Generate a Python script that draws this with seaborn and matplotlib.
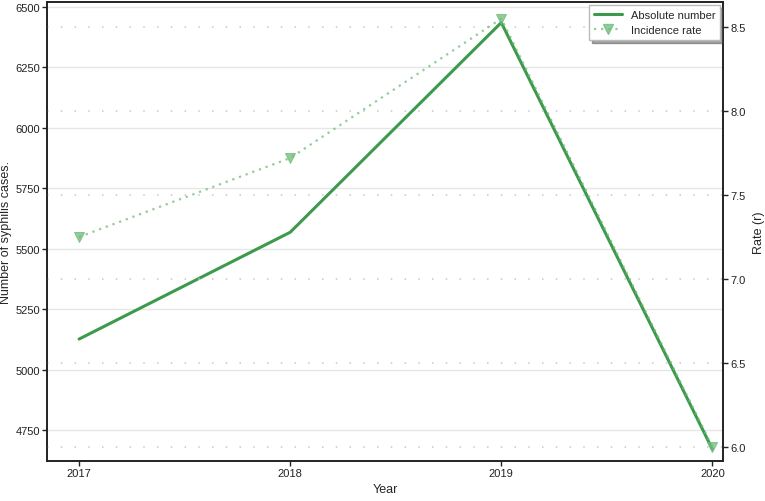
import numpy as np
import pandas as pd
import seaborn as sns
import matplotlib.pyplot as plt
from matplotlib.lines import Line2D

years = [2017, 2018, 2019, 2020]
cases = [5126, 5568, 6436, 4670]
rate = [7.25, 7.72, 8.55, 6.0]

df = pd.DataFrame({'Year': years, 'cases': cases, 'rate': rate})

sns.set_style('ticks')
plt.rcParams['font.family'] = ['Liberation Sans', 'DejaVu Sans']
plt.rcParams['font.size'] = 8

fig, ax = plt.subplots(figsize=(7.65, 5.02), dpi=100)
ax2 = ax.twinx()

green = '#3d9a4c'
light = '#6dbb78'
sns.lineplot(data=df, x='Year', y='cases', ax=ax, color=green, lw=2.2, zorder=3)
sns.lineplot(data=df, x='Year', y='rate', ax=ax2, color=light, lw=1.6,
             linestyle=(0, (1, 2.2)), marker='v', markersize=7.5, alpha=0.75,
             markeredgecolor=light, zorder=3)

ax.set_ylim(4622, 6521)
ax.set_yticks([4750, 5000, 5250, 5500, 5750, 6000, 6250, 6500])
ax2.set_ylim(5.917, 8.649)
ax2.set_yticks([6.0, 6.5, 7.0, 7.5, 8.0, 8.5])
ax.set_xlim(2016.85, 2020.05)
ax.set_xticks(years)
ax.set_xticklabels([str(y) for y in years])

ax.grid(axis='y', color='#e6e6e6', lw=1)
for v in ax2.get_yticks():
    ax2.axhline(v, color='#c8c8c8', lw=1.1, linestyle=(0, (1, 8)), zorder=0)

ax.set_xlabel('Year', fontsize=9, labelpad=3)
ax.set_ylabel('Number of syphilis cases.', fontsize=9, labelpad=2)
ax2.set_ylabel('Rate (r)', fontsize=9, labelpad=5)

for a in (ax, ax2):
    for s in a.spines.values():
        s.set_visible(True)
        s.set_color('#222222')
        s.set_linewidth(1.2)
    a.tick_params(length=3.5, width=1, pad=2, colors='#222222', labelsize=8)

handles = [Line2D([], [], color=green, lw=2.2),
           Line2D([], [], color=light, lw=1.6, linestyle=(0, (1, 2.2)),
                  marker='v', markersize=7, alpha=0.75)]
leg = ax2.legend(handles, ['Absolute number', 'Incidence rate'], loc='upper right',
                 frameon=True, shadow=True, fancybox=False, fontsize=8,
                 borderaxespad=0.3, handlelength=2.5)
leg.get_frame().set_edgecolor('#bbbbbb')

plt.subplots_adjust(left=0.062, right=0.945, top=0.994, bottom=0.08)
fig.savefig('out.png', dpi=100)
